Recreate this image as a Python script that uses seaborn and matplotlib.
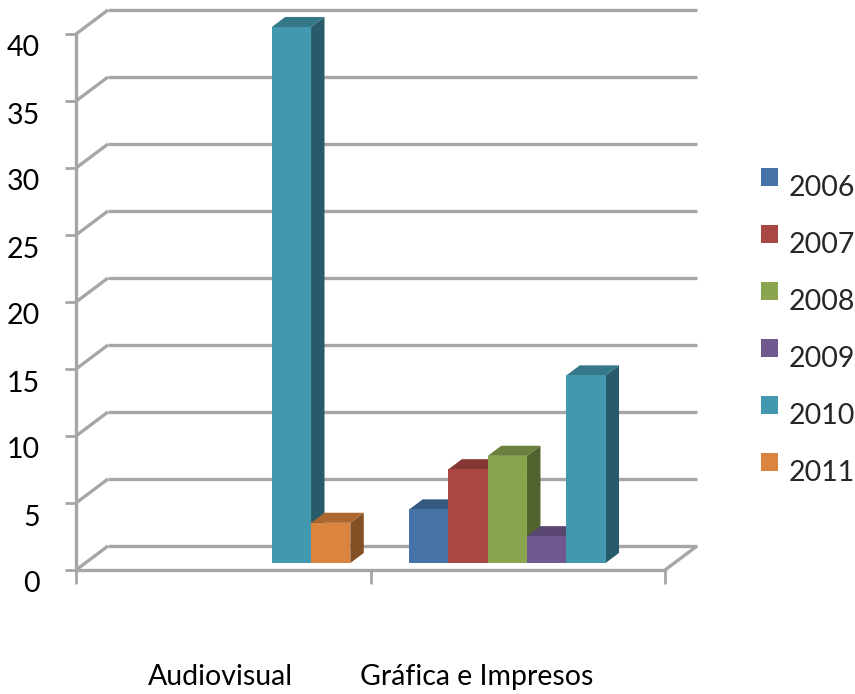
import numpy as np
import pandas as pd
import matplotlib
matplotlib.use("Agg")
import matplotlib.pyplot as plt
import matplotlib.colors as mcolors
from matplotlib.patches import Polygon, Patch
from matplotlib.transforms import ScaledTranslation
import seaborn as sns

# ---- data -------------------------------------------------------------
categories = ["Audiovisual", "Gráfica e Impresos"]
years = ["2006", "2007", "2008", "2009", "2010", "2011"]
audiovisual = [np.nan, np.nan, np.nan, np.nan, 40, 3]
grafica = [4, 7, 8, 2, 14, np.nan]
y_ticks = [0, 5, 10, 15, 20, 25, 30, 35, 40]
colors = ["#4572A7", "#AA4643", "#89A54E", "#71588F", "#4198AF", "#DB843D"]

df = pd.DataFrame({
    "categoria": np.repeat(categories, len(years)),
    "ano": years * len(categories),
    "valor": audiovisual + grafica,
})

sns.set_theme(style="white")
plt.rcParams["font.family"] = ["Lato", "DejaVu Sans"]
FS = 20.5

W, H = 855, 694
fig = plt.figure(figsize=(W / 100, H / 100), dpi=100)
ax = fig.add_axes([76 / W, 124 / H, 589 / W, 536 / H])

sns.barplot(data=df, x="categoria", y="valor", hue="ano", order=categories,
            hue_order=years, palette=colors, saturation=1, width=0.8,
            errorbar=None, legend=False, linewidth=0, ax=ax)
ax.set_xlim(-0.5, 1.5)
ax.set_ylim(0, 40)

# ---- pseudo-3D geometry (depth vector of the walls, in data units) ----
px_x = 589 / 2.0
px_y = 536 / 40.0
wall_dx = 32 / px_x
wall_dy = 24 / px_y
front_f = 0.29     # bars' front face sits this far into the depth
bar_f = 0.42       # depth of each bar

grid_col = "#a6a6a6"
gkw = dict(color=grid_col, lw=2.4, clip_on=False, zorder=0.5,
           solid_capstyle="butt")
for v in y_ticks:
    ax.plot([-0.5 + wall_dx, 1.5 + wall_dx], [v + wall_dy] * 2, **gkw)
    ax.plot([-0.5, -0.5 + wall_dx], [v, v + wall_dy], **gkw)
ax.plot([1.5, 1.5 + wall_dx], [0, wall_dy], **gkw)


def shade(c, k):
    r, g, b = mcolors.to_rgb(c)
    return (r * k, g * k, b * k)


bars = [p for p in ax.patches if np.isfinite(p.get_height()) and p.get_height() > 0]
bars.sort(key=lambda p: p.get_x())
bdx, bdy = bar_f * wall_dx, bar_f * wall_dy
for i, p in enumerate(bars):
    x0 = p.get_x() + front_f * wall_dx
    y0 = front_f * wall_dy
    w, h = p.get_width(), p.get_height()
    y1 = y0 + h
    fc = p.get_facecolor()
    z = 2 + i * 0.1
    p.set_x(x0)
    p.set_y(y0)
    p.set_zorder(z + 0.02)
    p.set_clip_on(False)
    side = Polygon([(x0 + w, y0), (x0 + w + bdx, y0 + bdy),
                    (x0 + w + bdx, y1 + bdy), (x0 + w, y1)],
                   closed=True, facecolor=shade(fc, 0.6), lw=0,
                   zorder=z, clip_on=False)
    top = Polygon([(x0, y1), (x0 + w, y1), (x0 + w + bdx, y1 + bdy),
                   (x0 + bdx, y1 + bdy)],
                  closed=True, facecolor=shade(fc, 0.78), lw=0,
                  zorder=z + 0.01, clip_on=False)
    ax.add_patch(side)
    ax.add_patch(top)

# ---- axes styling -----------------------------------------------------
for s in ("top", "right"):
    ax.spines[s].set_visible(False)
for s in ("left", "bottom"):
    ax.spines[s].set_color(grid_col)
    ax.spines[s].set_linewidth(2.4)
    ax.spines[s].set_zorder(1)

ax.set_yticks(y_ticks)
ax.set_yticklabels([str(v) for v in y_ticks])
ax.set_xticks([-0.5, 0.5, 1.5])
ax.set_xticklabels(["", "", ""])
ax.tick_params(axis="y", direction="out", length=8, width=2, color=grid_col,
               pad=18.0, labelsize=FS, labelcolor="black", left=True)
ax.tick_params(axis="x", direction="out", length=10, width=2, color=grid_col,
               bottom=True)
ax.set_xlabel("")
ax.set_ylabel("")
down = ScaledTranslation(0, -12 / 100, fig.dpi_scale_trans)
for lbl in ax.get_yticklabels():
    lbl.set_transform(lbl.get_transform() + down)

# category names under the floor
for name, xc in zip(categories, [-0.011, 0.862]):
    ax.annotate(name, xy=(xc, 0), xycoords=("data", "axes fraction"),
                xytext=(0, -107), textcoords="offset pixels",
                ha="center", va="center", fontsize=FS, color="black")

# ---- legend -----------------------------------------------------------
handles = [Patch(facecolor=c, edgecolor="none", label=y)
           for c, y in zip(colors, years)]
leg = fig.legend(handles=handles, loc="upper left",
                 bbox_to_anchor=(761 / W, 1 - 166 / H), frameon=False,
                 fontsize=FS, handlelength=0.6, handleheight=0.6,
                 handletextpad=0.38, labelspacing=1.09, borderpad=0,
                 borderaxespad=0)
for t in leg.get_texts():
    t.set_y(-9)

fig.savefig("out.png", dpi=100)
